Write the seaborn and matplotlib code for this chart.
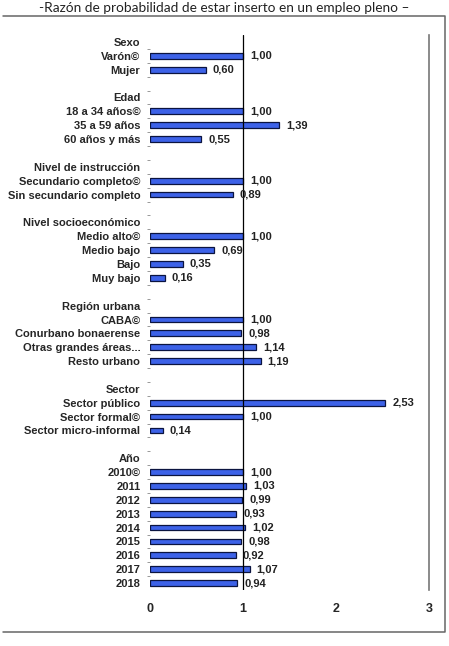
import seaborn as sns
import matplotlib.pyplot as plt
import pandas as pd
from matplotlib.lines import Line2D

sns.set_theme(style="white")
plt.rcParams['font.family'] = ['Liberation Sans', 'DejaVu Sans']

# data (razón de probabilidad, categoría de referencia = ©)
groups = ["Sexo", "Edad", "Nivel de instrucción", "Nivel socioeconómico",
          "Región urbana", "Sector", "Año"]
items = [
    ["Varón©", "Mujer"],
    ["18 a 34 años©", "35 a 59 años", "60 años y más"],
    ["Secundario completo©", "Sin secundario completo"],
    ["Medio alto©", "Medio bajo", "Bajo", "Muy bajo"],
    ["CABA©", "Conurbano bonaerense", "Otras grandes áreas...", "Resto urbano"],
    ["Sector público", "Sector formal©", "Sector micro-informal"],
    ["2010©", "2011", "2012", "2013", "2014", "2015", "2016", "2017", "2018"],
]
values = [
    [1.00, 0.60],
    [1.00, 1.39, 0.55],
    [1.00, 0.89],
    [1.00, 0.69, 0.35, 0.16],
    [1.00, 0.98, 1.14, 1.19],
    [2.53, 1.00, 0.14],
    [1.00, 1.03, 0.99, 0.93, 1.02, 0.98, 0.92, 1.07, 0.94],
]
x_ticks = [0, 1, 2, 3]

# category order: header, items, blank spacer between groups
order = []
rows = []
for g, (name, its, vals) in enumerate(zip(groups, items, values)):
    if g > 0:
        order.append(" " * g)
    order.append(name)
    for it, v in zip(its, vals):
        order.append(it)
        rows.append({"label": it, "value": v})
df = pd.DataFrame(rows)

fig = plt.figure(figsize=(4.49, 6.46), dpi=100)
ax = fig.add_axes([150 / 449, 1 - 590 / 646, 279 / 449, 555 / 646])

sns.barplot(data=df, x="value", y="label", order=order, orient="h", ax=ax,
            color="#3d62e8", saturation=1, width=0.42,
            edgecolor="#0b1440", linewidth=0.9)

for _, r in df.iterrows():
    ax.text(r["value"] + 0.075, order.index(r["label"]),
            f"{r['value']:.2f}".replace(".", ","),
            va="center", ha="left", fontsize=8, fontweight="bold", color="#222222")

ax.set_xlim(0, 3)
ax.set_ylim(len(order) - 0.5, -0.5)
ax.set_xticks(x_ticks)
ax.set_xticklabels([str(t) for t in x_ticks], fontsize=9, fontweight="bold")
ax.set_yticks(range(len(order)))
ax.set_yticklabels(order, fontsize=8, fontweight="bold")
ax.set_yticks([i - 0.5 for i in range(1, len(order))], minor=True)
ax.tick_params(axis="y", which="major", length=0, pad=7)
ax.tick_params(axis="y", which="minor", left=True, length=2, width=0.6, color="#888888")
ax.tick_params(axis="x", length=0, pad=9)
ax.set_xlabel("")
ax.set_ylabel("")
ax.axvline(1, color="black", linewidth=0.9)
for s in ["top", "bottom", "left"]:
    ax.spines[s].set_visible(False)
ax.spines["right"].set_color("#777777")
ax.spines["right"].set_linewidth(1.2)

# outer frame (top, right, bottom)
x0, x1 = 3 / 449, 445 / 449
y0, y1 = 1 - 632 / 646, 1 - 16 / 646
fig.add_artist(Line2D([x0, x1, x1, x0], [y1, y1, y0, y0], transform=fig.transFigure,
                      color="#666666", linewidth=1.1))

fig.text(0.5, 1 - 8 / 646, "-Razón de probabilidad de estar inserto en un empleo pleno –",
         ha="center", va="center", fontsize=9.8, family="Lato", color="#222222")

fig.savefig("out.png", dpi=100)
